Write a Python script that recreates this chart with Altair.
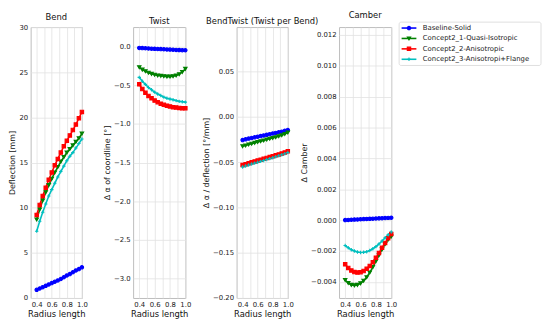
import altair as alt
import pandas as pd

radius = [0.40, 0.44, 0.48, 0.52, 0.56, 0.60, 0.64, 0.68, 0.72, 0.76, 0.80, 0.84, 0.88, 0.92, 0.96, 1.00]
series = ["Baseline-Solid", "Concept2_1-Quasi-Isotropic", "Concept2_2-Anisotropic", "Concept2_3-Anisotropi+Flange"]
colors = ["#0000ff", "#008000", "#ff0000", "#00bfbf"]
shapes = ["circle", "triangle-down", "square", "M-1,0L1,0M0,-1L0,1"]

# Bend: deflection [mm]
bend_base = [0.9, 1.05, 1.2, 1.35, 1.5, 1.65, 1.8, 1.95, 2.1, 2.3, 2.5, 2.65, 2.85, 3.05, 3.2, 3.4]
bend_c21 = [8.7, 9.8, 10.8, 11.7, 12.5, 13.2, 13.9, 14.5, 15.1, 15.6, 16.1, 16.5, 16.9, 17.3, 17.7, 18.2]
bend_c22 = [9.2, 10.3, 11.3, 12.2, 13.1, 13.9, 14.7, 15.4, 16.1, 16.8, 17.4, 18.0, 18.6, 19.2, 19.9, 20.6]
bend_c23 = [7.4, 8.5, 9.5, 10.4, 11.3, 12.0, 12.7, 13.4, 14.0, 14.6, 15.2, 15.7, 16.1, 16.6, 17.1, 17.6]

# Twist: delta alpha of coordline [deg]
twist_base = [-0.02, -0.022, -0.024, -0.026, -0.029, -0.031, -0.033, -0.035, -0.037, -0.039, -0.041, -0.043, -0.045, -0.047, -0.048, -0.05]
twist_c21 = [-0.27, -0.30, -0.32, -0.34, -0.355, -0.365, -0.375, -0.38, -0.385, -0.39, -0.39, -0.385, -0.375, -0.36, -0.33, -0.29]
twist_c22 = [-0.49, -0.55, -0.60, -0.64, -0.67, -0.70, -0.72, -0.74, -0.755, -0.765, -0.775, -0.785, -0.79, -0.795, -0.80, -0.80]
twist_c23 = [-0.40, -0.45, -0.49, -0.53, -0.56, -0.59, -0.615, -0.635, -0.655, -0.67, -0.68, -0.69, -0.70, -0.71, -0.715, -0.72]

# BendTwist: delta alpha / deflection [deg/mm]
bt_base = [-0.0257, -0.0249, -0.0241, -0.0234, -0.0227, -0.0220, -0.0213, -0.0206, -0.0199, -0.0192, -0.0185, -0.0178, -0.0171, -0.0164, -0.0155, -0.0146]
bt_c21 = [-0.0326, -0.0316, -0.0306, -0.0297, -0.0288, -0.0279, -0.0270, -0.0261, -0.0252, -0.0243, -0.0234, -0.0225, -0.0215, -0.0204, -0.0190, -0.0174]
bt_c22 = [-0.0533, -0.0523, -0.0513, -0.0503, -0.0493, -0.0483, -0.0474, -0.0464, -0.0455, -0.0445, -0.0436, -0.0426, -0.0416, -0.0406, -0.0394, -0.0380]
bt_c23 = [-0.0554, -0.0543, -0.0533, -0.0522, -0.0512, -0.0502, -0.0492, -0.0482, -0.0472, -0.0462, -0.0452, -0.0442, -0.0431, -0.0420, -0.0408, -0.0395]

# Camber: delta camber
cam_base = [0.0, 0.00001, 0.00002, 0.00003, 0.00004, 0.00005, 0.00006, 0.00007, 0.00008, 0.00009, 0.0001, 0.00011, 0.00012, 0.00013, 0.00014, 0.00015]
cam_c21 = [-0.00388, -0.00408, -0.00420, -0.00423, -0.00420, -0.00410, -0.00393, -0.00370, -0.00340, -0.00305, -0.00267, -0.00228, -0.00190, -0.00155, -0.00125, -0.00107]
cam_c22 = [-0.00287, -0.00310, -0.00327, -0.00337, -0.00340, -0.00338, -0.00330, -0.00316, -0.00297, -0.00273, -0.00245, -0.00213, -0.00180, -0.00148, -0.00118, -0.00091]
cam_c23 = [-0.00165, -0.00180, -0.00192, -0.00201, -0.00207, -0.00210, -0.00209, -0.00205, -0.00197, -0.00186, -0.00172, -0.00155, -0.00136, -0.00115, -0.00095, -0.00077]

x_grid = [0.4, 0.5, 0.6, 0.7, 0.8, 0.9, 1.0]
bend_ticks = [0, 5, 10, 15, 20, 25, 30]
twist_ticks = [-3.0, -2.5, -2.0, -1.5, -1.0, -0.5, 0.0]
bt_ticks = [-0.20, -0.15, -0.10, -0.05, 0.0, 0.05]
cam_ticks = [-0.004, -0.002, 0.0, 0.002, 0.004, 0.006, 0.008, 0.010, 0.012]

H = 275


def long_df(lists):
    rows = []
    for name, vals in zip(series, lists):
        for r, v in zip(radius, vals):
            rows.append({"r": r, "v": v, "s": name})
    return pd.DataFrame(rows)


color_scale = alt.Scale(domain=series, range=colors)
shape_scale = alt.Scale(domain=series, range=shapes)


def data_layer(df, ytitle, ydomain, yticks, yfmt):
    x = alt.X("r:Q", scale=alt.Scale(domain=[0.32, 1.0], nice=False, zero=False),
              axis=alt.Axis(title="Radius length", values=x_grid, labelOverlap=False, labelFlush=False,
                            labelExpr="round(datum.value*10) % 2 == 0 ? format(datum.value, '.1f') : ''"))
    y = alt.Y("v:Q", scale=alt.Scale(domain=ydomain, nice=False, zero=False),
              axis=alt.Axis(title=ytitle, values=yticks, format=yfmt, labelOverlap=False, labelFlush=False))
    col = alt.Color("s:N", scale=color_scale, legend=None)
    line = alt.Chart(df).mark_line(strokeWidth=1.6).encode(x=x, y=y, color=col)
    pts = alt.Chart(df).mark_point(filled=True, size=12, strokeWidth=1.1, opacity=1).encode(
        x=x, y=y, color=col,
        stroke=alt.Stroke("s:N", scale=color_scale, legend=None),
        shape=alt.Shape("s:N", scale=shape_scale, legend=None))
    return alt.layer(line, pts)


def title(t):
    return alt.Title(t, fontSize=8.5, fontWeight="normal", offset=2, font="DejaVu Sans", color="#111")


p1 = data_layer(long_df([bend_base, bend_c21, bend_c22, bend_c23]), "Deflection [mm]", [0, 30], bend_ticks, "d").properties(
    width=52, height=H, title=title("Bend"))
p2 = data_layer(long_df([twist_base, twist_c21, twist_c22, twist_c23]), "Δ α of coordline [°]", [-3.25, 0.25], twist_ticks, ".1f").properties(
    width=53, height=H, title=title("Twist"))
p3 = data_layer(long_df([bt_base, bt_c21, bt_c22, bt_c23]), "Δ α / deflection [°/mm]", [-0.2, 0.099], bt_ticks, ".2f").properties(
    width=52, height=H, title=title("BendTwist (Twist per Bend)"))

# legend drawn beside the Camber panel
leg_df = pd.DataFrame({"s": series})
leg_y = alt.Y("s:N", scale=alt.Scale(type="point", domain=series, range=[1, 32.7], padding=0), axis=None)
leg_col = alt.Color("s:N", scale=color_scale, legend=None)
box = alt.Chart(pd.DataFrame({"a": [0]})).mark_rect(fill="white", stroke="#d6d6d6", strokeWidth=0.8, cornerRadius=2).encode(
    x=alt.value(61), x2=alt.value(205), y=alt.value(-5), y2=alt.value(39))
leg_rule = alt.Chart(leg_df).mark_rule(strokeWidth=1.6).encode(
    x=alt.value(63.5), x2=alt.value(78.5), y=leg_y, color=leg_col)
leg_pts = alt.Chart(leg_df).mark_point(filled=True, size=12, strokeWidth=1.1, opacity=1).encode(
    x=alt.value(71), y=leg_y, color=leg_col,
    stroke=alt.Stroke("s:N", scale=color_scale, legend=None),
    shape=alt.Shape("s:N", scale=shape_scale, legend=None))
leg_txt = alt.Chart(leg_df).mark_text(align="left", baseline="middle", fontSize=7, font="DejaVu Sans", color="#222").encode(
    x=alt.value(85), y=leg_y, text="s:N")
legend = alt.layer(box, leg_rule, leg_pts, leg_txt)

p4 = alt.layer(
    data_layer(long_df([cam_base, cam_c21, cam_c22, cam_c23]), "Δ Camber", [-0.00505, 0.0125], cam_ticks, ".3f"),
    legend,
).resolve_scale(y="independent").properties(width=53, height=H, title=title("Camber"))

chart = alt.hconcat(p1, p2, p3, p4, spacing=52, bounds="flush").properties(
    padding={"left": 0, "top": 0, "right": 0, "bottom": 0}
).configure_view(stroke="#bdbdbd", strokeWidth=1).configure_axis(
    labelFont="DejaVu Sans", titleFont="DejaVu Sans", labelFontSize=7, labelColor="#222",
    titleColor="#111", titleFontWeight="normal", grid=True, gridColor="#e2e2e2", gridWidth=0.8,
    domain=False, ticks=False, labelPadding=3, titlePadding=2
).configure_axisX(titleFontSize=8.5).configure_axisY(titleFontSize=8)

chart.save("out.html", embed_options={"renderer": "svg", "actions": False})
